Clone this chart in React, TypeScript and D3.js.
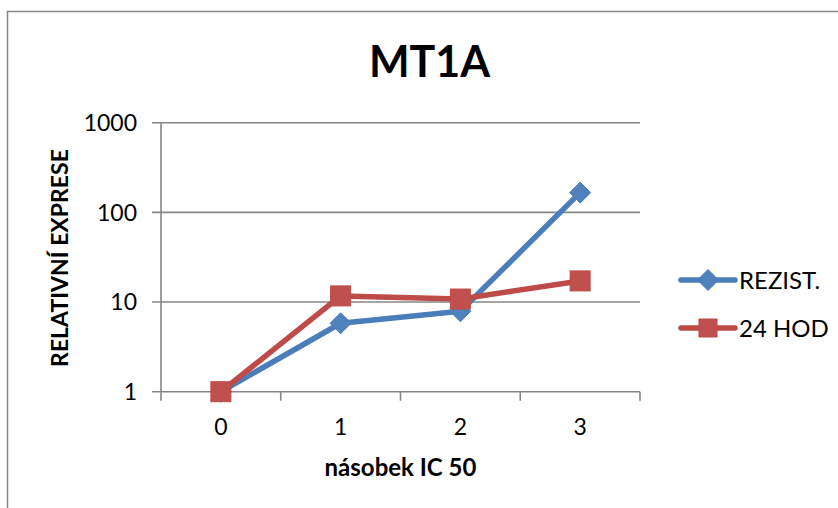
import React from "react";
import * as d3 from "d3";

const categories = ["0", "1", "2", "3"];
const seriesNames = ["REZIST.", "24 HOD"];
const rezist = [1, 5.8, 7.9, 166];
const hod24 = [1, 11.7, 10.8, 17.2];
const yTicks = [1, 10, 100, 1000];
const title = "MT1A";
const xTitle = "násobek IC 50";
const yTitle = "RELATIVNÍ EXPRESE";

const W = 838;
const H = 508;
const plot = { left: 161, right: 640, top: 122.7, bottom: 391.7 };
const FONT = "Lato, 'Liberation Sans', Arial, sans-serif";
const GRID = "#868686";
const BLUE_LINE = "#4A7EBB";
const BLUE = "#4F81BD";
const RED_LINE = "#BE4B48";
const RED = "#C0504D";

export default function App() {
  const x = d3
    .scaleBand<string>()
    .domain(categories)
    .range([plot.left, plot.right]);
  const y = d3.scaleLog().domain([1, 1000]).range([plot.bottom, plot.top]);
  const cx = (c: string) => (x(c) as number) + x.bandwidth() / 2;
  const line = d3
    .line<number>()
    .x((_, i) => cx(categories[i]))
    .y((d) => y(d));

  const boundaries = categories.map((c) => x(c) as number).concat([plot.right]);

  const diamond = (px: number, py: number, r: number) =>
    `M${px},${py - r}L${px + r},${py}L${px},${py + r}L${px - r},${py}Z`;

  const legendY = [280, 328];
  const legX0 = 681;
  const legX1 = 735;
  const legMid = (legX0 + legX1) / 2;

  return (
    <svg
      width={W}
      height={H}
      style={{ position: "absolute", left: 0, top: 0, display: "block" }}
    >
      <rect x={0} y={0} width={W} height={H} fill="#ffffff" />
      <rect
        x={7.5}
        y={11.5}
        width={W + 50}
        height={H + 50}
        fill="none"
        stroke={GRID}
        strokeWidth={1.5}
      />
      <text
        x={429.5}
        y={77}
        textAnchor="middle"
        fontFamily={FONT}
        fontWeight="bold"
        fontSize={43}
        fill="#000"
      >
        {title}
      </text>

      {yTicks.map((t) => (
        <g key={t}>
          <line
            x1={plot.left - 9}
            x2={plot.right}
            y1={y(t)}
            y2={y(t)}
            stroke={GRID}
            strokeWidth={1.6}
          />
          <text
            x={137}
            y={y(t)}
            dy="0.36em"
            textAnchor="end"
            fontFamily={FONT}
            fontSize={23}
            fill="#000"
          >
            {t}
          </text>
        </g>
      ))}
      <line
        x1={plot.left}
        x2={plot.left}
        y1={plot.top}
        y2={plot.bottom}
        stroke={GRID}
        strokeWidth={1.6}
      />
      {boundaries.map((b, i) => (
        <line
          key={i}
          x1={b}
          x2={b}
          y1={plot.bottom}
          y2={plot.bottom + 9}
          stroke={GRID}
          strokeWidth={1.6}
        />
      ))}
      {categories.map((c) => (
        <text
          key={c}
          x={cx(c)}
          y={435}
          textAnchor="middle"
          fontFamily={FONT}
          fontSize={23}
          fill="#000"
        >
          {c}
        </text>
      ))}
      <text
        x={(plot.left + plot.right) / 2}
        y={476}
        textAnchor="middle"
        fontFamily={FONT}
        fontWeight="bold"
        fontSize={24}
        fill="#000"
      >
        {xTitle}
      </text>
      <text
        transform={`translate(68,258) rotate(-90)`}
        textAnchor="middle"
        fontFamily={FONT}
        fontWeight="bold"
        fontSize={23}
        fill="#000"
      >
        {yTitle}
      </text>

      <path
        d={line(rezist) || ""}
        fill="none"
        stroke={BLUE_LINE}
        strokeWidth={5.5}
        strokeLinejoin="round"
        strokeLinecap="round"
      />
      {rezist.map((v, i) => (
        <path
          key={i}
          d={diamond(cx(categories[i]), y(v), 10.5)}
          fill={BLUE}
          stroke={BLUE_LINE}
          strokeWidth={1}
        />
      ))}
      <path
        d={line(hod24) || ""}
        fill="none"
        stroke={RED_LINE}
        strokeWidth={5.5}
        strokeLinejoin="round"
        strokeLinecap="round"
      />
      {hod24.map((v, i) => (
        <rect
          key={i}
          x={cx(categories[i]) - 10}
          y={y(v) - 10}
          width={20}
          height={20}
          fill={RED}
          stroke={RED_LINE}
          strokeWidth={1}
        />
      ))}

      {seriesNames.map((name, i) => (
        <g key={name}>
          <line
            x1={legX0}
            x2={legX1}
            y1={legendY[i]}
            y2={legendY[i]}
            stroke={i === 0 ? BLUE_LINE : RED_LINE}
            strokeWidth={5.5}
            strokeLinecap="round"
          />
          {i === 0 ? (
            <path d={diamond(legMid, legendY[i], 10.5)} fill={BLUE} stroke={BLUE_LINE} />
          ) : (
            <rect
              x={legMid - 9}
              y={legendY[i] - 9}
              width={18}
              height={18}
              fill={RED}
              stroke={RED_LINE}
            />
          )}
          <text
            x={739}
            y={legendY[i]}
            dy="0.36em"
            fontFamily={FONT}
            fontSize={24}
            fill="#000"
          >
            {name}
          </text>
        </g>
      ))}
    </svg>
  );
}
